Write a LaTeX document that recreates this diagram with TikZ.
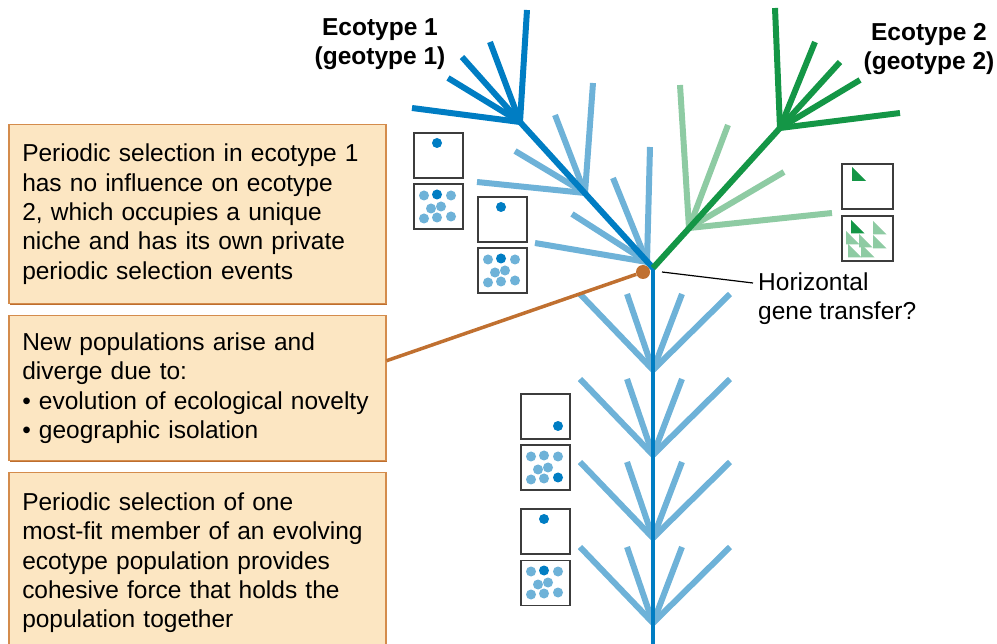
\documentclass[tikz,border=0pt]{standalone}
\usepackage{fontspec}
\setmainfont{Liberation Sans}
\usetikzlibrary{shadows}

\definecolor{ecoblue}{RGB}{0,125,195}
\definecolor{ecobluelight}{RGB}{110,178,216}
\definecolor{ecogreen}{RGB}{20,150,70}
\definecolor{ecogreenlight}{RGB}{142,203,163}
\definecolor{notebrown}{RGB}{192,112,48}
\definecolor{notefill}{RGB}{252,230,194}
\definecolor{noteedge}{RGB}{212,140,76}
\definecolor{noteshade}{RGB}{190,110,45}
\definecolor{boxgray}{RGB}{60,60,60}

\newcommand{\notefont}{\fontsize{24.5}{29.3}\selectfont}

\tikzset{
  note/.style={draw=noteedge,line width=1.5pt,fill=notefill,anchor=north west,
    minimum width=377pt,text width=350pt,inner xsep=13.5pt,align=left,font=\notefont,
    drop shadow={shadow xshift=1.6pt,shadow yshift=-1.6pt,fill=noteshade,opacity=1}},
  sample/.style={draw=boxgray,line width=1.8pt,fill=white,anchor=north west,
    minimum width=49pt,minimum height=45pt,inner sep=0pt},
  stem/.style={line width=6pt},
  twig/.style={line width=6pt},
}

\begin{document}
\begin{tikzpicture}[x=1pt,y=-1pt]
\useasboundingbox (0,0) rectangle (997,644);

% branching points of the tree
\coordinate (root)  at (653,268);
\coordinate (base)  at (653,660);
\coordinate (eco1)  at (520,122);
\coordinate (eco2)  at (780,128);
\coordinate (fork0) at (647,262);
\coordinate (fork1) at (585,193);
\coordinate (fork2) at (689,228);

% trunk with four whorls of side branches
\foreach \y in {370,455,538,623}
    \foreach \dx in {-73,-26,29,77}
        \draw[twig,ecobluelight] (653,\y) -- ++(\dx,-76);
\draw[stem,ecoblue,line width=4.5pt] (root) -- (base);

% ecotype 1
\foreach \tx/\ty in {593/83, 555/115, 515/151, 477/182}
    \draw[twig,ecobluelight] (fork1) -- (\tx,\ty);
\foreach \tx/\ty in {650/147, 613/178, 572/214, 535/243}
    \draw[twig,ecobluelight] (fork0) -- (\tx,\ty);
\draw[stem,ecoblue] (root) -- (eco1);
\foreach \tx/\ty in {527/10, 490/42, 462/57, 448/78, 412/108}
    \draw[stem,ecoblue] (eco1) -- (\tx,\ty);

% ecotype 2
\foreach \tx/\ty in {680/85, 728/125, 784/172, 832/213}
    \draw[twig,ecogreenlight] (fork2) -- (\tx,\ty);
\draw[stem,ecogreen] (root) -- (eco2);
\foreach \tx/\ty in {775/8, 815/42, 840/62, 860/80, 900/113}
    \draw[stem,ecogreen] (eco2) -- (\tx,\ty);

% population samples: the selected cell on top, the whole population below
\foreach \name/\x/\y/\k in {popa/413/132/2, popb/477/196/2, popc/520/393/8, popd/520/508/2} {
    \node[sample] (\name-top) at (\x,\y) {};
    \node[sample] (\name-all) at (\x,\y+51.5) {};
    \foreach \dx/\dy [count=\i] in {11/12,24/11,38/12,18/25,28/23,11/35,24/34,38/33} {
        \ifnum\i=\k
            \fill[ecoblue] (\x+\dx,\y+51.5+\dy) circle[radius=5];
            \fill[ecoblue] (\x+\dx,\y+\dy) circle[radius=5];
        \else
            \fill[ecobluelight] (\x+\dx,\y+51.5+\dy) circle[radius=5];
        \fi
    }
}

% ecotype 2 samples use triangles
\node[sample,minimum width=51pt] (popg-top) at (841,163) {};
\node[sample,minimum width=51pt] (popg-all) at (841,215) {};
\fill[ecogreen] (852,167) -- ++(0,14) -- ++(14,0) -- cycle;
\foreach \tx/\ty in {873/221, 846/231, 859/234, 873/235, 848/244, 861/244}
    \fill[ecogreenlight] (\tx,\ty) -- ++(0,13.5) -- ++(13.5,0) -- cycle;
\fill[ecogreen] (851,220) -- ++(0,13.5) -- ++(13.5,0) -- cycle;

% notes on the left
\node[note,minimum height=179pt] (private) at (8,124) {Periodic selection in ecotype 1\\has no influence on ecotype\\2, which occupies a unique\\niche and has its own private\\periodic selection events};
\node[note,minimum height=145pt] (diverge) at (8,315) {New populations arise and\\diverge due to:\\• evolution of ecological novelty\\• geographic isolation};
\node[note,minimum height=180pt] (cohesion) at (8,472) {Periodic selection of one\\most-fit member of an evolving\\ecotype population provides\\cohesive force that holds the\\population together};

% split point and its note
\node[circle,fill=notebrown,minimum size=14pt,inner sep=0pt] (split) at (643,272) {};
\draw[notebrown,line width=3.5pt] (split) -- ([yshift=27.5pt]diverge.east);

% horizontal gene transfer
\coordinate (hgtfrom) at (662,272);
\node[anchor=west,align=left,font=\notefont,inner sep=0pt] (hgt) at (758,299) {Horizontal\\gene transfer?};
\draw[black,line width=1.2pt] (hgtfrom) -- ([xshift=-5pt,yshift=16pt]hgt.west);

% labels
\node[align=center,font=\notefont\bfseries] (eco1label) at (380,44) {Ecotype 1\\(geotype 1)};
\node[align=center,font=\notefont\bfseries] (eco2label) at (929,49) {Ecotype 2\\(geotype 2)};
\end{tikzpicture}
\end{document}
